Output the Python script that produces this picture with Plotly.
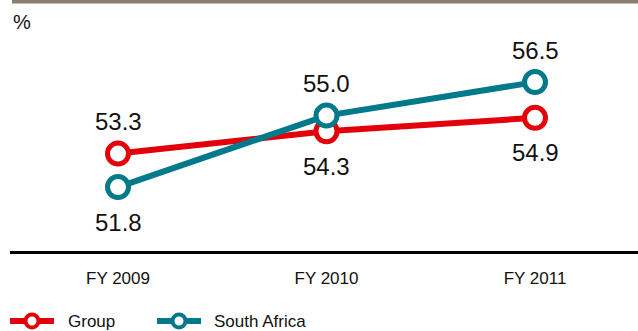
import plotly.graph_objects as go

categories = ["FY 2009", "FY 2010", "FY 2011"]
group_vals = [53.3, 54.3, 54.9]
sa_vals = [51.8, 55.0, 56.5]
group_label_pos = [1, -1, -1]   # +1 above, -1 below
sa_label_pos = [-1, 1, 1]
series_names = ["Group", "South Africa"]

RED = "#e3000b"
TEAL = "#00798a"
FONT = "Liberation Sans, Arial, sans-serif"

W, H = 638, 331
ML, MR, MT, MB = 10, 0, 3, 80
PW, PH = W - ML - MR, H - MT - MB


def px(x):
    return (x - ML) / PW


def py(y):
    return (H - MB - y) / PH


xs = list(range(len(categories)))

fig = go.Figure()
for name, vals, color in [(series_names[0], group_vals, RED), (series_names[1], sa_vals, TEAL)]:
    fig.add_trace(go.Scatter(
        x=xs, y=vals, name=name, mode="lines+markers",
        line=dict(color=color, width=6),
        marker=dict(symbol="circle", size=21, color="white", line=dict(color=color, width=5)),
        hoverinfo="skip", showlegend=False,
    ))

annotations = []
for vals, pos in [(group_vals, group_label_pos), (sa_vals, sa_label_pos)]:
    for x, v, p in zip(xs, vals, pos):
        annotations.append(dict(
            x=x, y=v, xref="x", yref="y", text=f"{v:.1f}", showarrow=False,
            yshift=32 if p > 0 else -35, font=dict(family=FONT, size=24, color="#111111"),
        ))
annotations.append(dict(
    x=px(11), y=py(22), xref="paper", yref="paper", text="%", showarrow=False,
    xanchor="left", yanchor="middle",
    font=dict(family=FONT, size=20, color="#111111"),
))

shapes = [dict(type="rect", xref="paper", yref="paper",
               x0=px(12), x1=1, y0=py(0), y1=py(3.5),
               fillcolor="#8a7c71", line=dict(width=0), layer="above")]

# manual legend
legend_items = [(series_names[0], RED, 10, 66), (series_names[1], TEAL, 157, 212)]
LY = 321
for name, color, x0, tx in legend_items:
    shapes.append(dict(type="line", xref="paper", yref="paper",
                       x0=px(x0), x1=px(x0 + 44), y0=py(LY), y1=py(LY),
                       line=dict(color=color, width=6), layer="above"))
    cx = x0 + 22
    r = 6.5
    shapes.append(dict(type="circle", xref="paper", yref="paper",
                       x0=px(cx - r), x1=px(cx + r), y0=py(LY + r), y1=py(LY - r),
                       fillcolor="white", line=dict(color=color, width=4), layer="above"))
    annotations.append(dict(x=px(tx), y=py(LY), xref="paper", yref="paper", text=name,
                            showarrow=False, xanchor="left", yanchor="middle",
                            font=dict(family=FONT, size=17, color="#111111")))

fig.update_layout(
    width=W, height=H,
    margin=dict(l=ML, r=MR, t=MT, b=MB, autoexpand=False),
    paper_bgcolor="white", plot_bgcolor="white",
    showlegend=False,
    annotations=annotations,
    shapes=shapes,
)
fig.update_xaxes(
    tickmode="array", tickvals=xs, ticktext=categories,
    range=[-0.518, 2.494], showgrid=False, zeroline=False,
    showline=True, linecolor="#000000", linewidth=2.5,
    ticks="outside", ticklen=10, tickcolor="rgba(0,0,0,0)",
    tickfont=dict(family=FONT, size=17, color="#111111"),
)
fig.update_yaxes(
    range=[48.94, 60.04], showgrid=False, zeroline=False, showline=False,
    showticklabels=False, ticks="",
)

fig.write_html("out.html")
